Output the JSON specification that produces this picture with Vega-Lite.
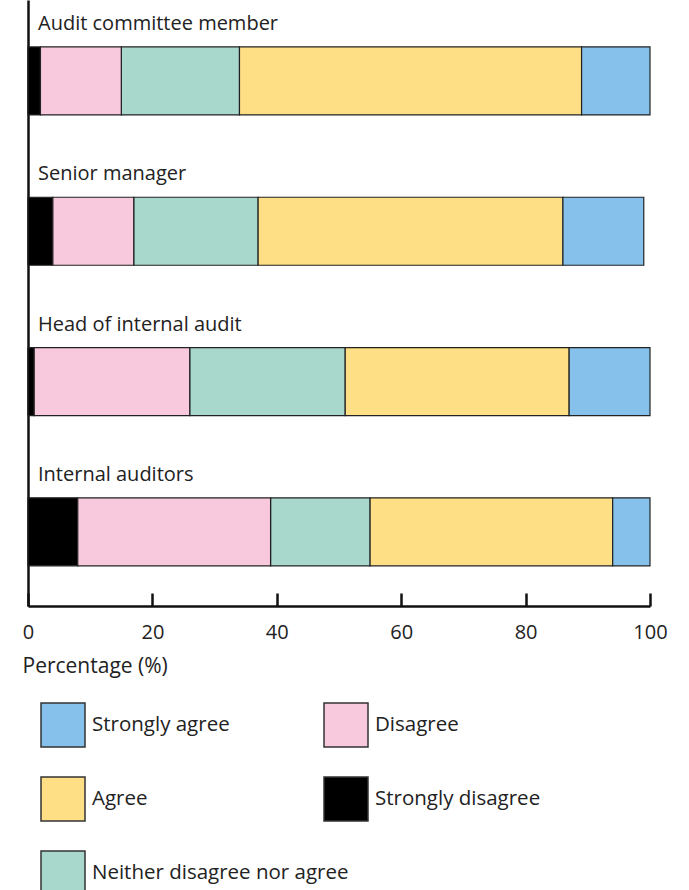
{
  "$schema": "https://vega.github.io/schema/vega-lite/v6.json",
  "width": 622,
  "height": 606,
  "autosize": {"type": "none"},
  "padding": {"left": 28, "top": 0, "right": 39, "bottom": 284},
  "background": "white",
  "config": {
    "font": "Open Sans",
    "view": {"stroke": null},
    "axis": {"grid": false}
  },
  "data": {
    "values": [
      {"role": "Audit committee member", "response": "Strongly disagree", "pct": 2, "order": 1, "group": "B"},
      {"role": "Audit committee member", "response": "Disagree", "pct": 13, "order": 2, "group": "B"},
      {"role": "Audit committee member", "response": "Neither disagree nor agree", "pct": 19, "order": 3, "group": "A"},
      {"role": "Audit committee member", "response": "Agree", "pct": 55, "order": 4, "group": "A"},
      {"role": "Audit committee member", "response": "Strongly agree", "pct": 11, "order": 5, "group": "A"},
      {"role": "Senior manager", "response": "Strongly disagree", "pct": 4, "order": 1, "group": "B"},
      {"role": "Senior manager", "response": "Disagree", "pct": 13, "order": 2, "group": "B"},
      {"role": "Senior manager", "response": "Neither disagree nor agree", "pct": 20, "order": 3, "group": "A"},
      {"role": "Senior manager", "response": "Agree", "pct": 49, "order": 4, "group": "A"},
      {"role": "Senior manager", "response": "Strongly agree", "pct": 13, "order": 5, "group": "A"},
      {"role": "Head of internal audit", "response": "Strongly disagree", "pct": 1, "order": 1, "group": "B"},
      {"role": "Head of internal audit", "response": "Disagree", "pct": 25, "order": 2, "group": "B"},
      {"role": "Head of internal audit", "response": "Neither disagree nor agree", "pct": 25, "order": 3, "group": "A"},
      {"role": "Head of internal audit", "response": "Agree", "pct": 36, "order": 4, "group": "A"},
      {"role": "Head of internal audit", "response": "Strongly agree", "pct": 13, "order": 5, "group": "A"},
      {"role": "Internal auditors", "response": "Strongly disagree", "pct": 8, "order": 1, "group": "B"},
      {"role": "Internal auditors", "response": "Disagree", "pct": 31, "order": 2, "group": "B"},
      {"role": "Internal auditors", "response": "Neither disagree nor agree", "pct": 16, "order": 3, "group": "A"},
      {"role": "Internal auditors", "response": "Agree", "pct": 39, "order": 4, "group": "A"},
      {"role": "Internal auditors", "response": "Strongly agree", "pct": 6, "order": 5, "group": "A"}
    ]
  },
  "transform": [
    {"stack": "pct", "groupby": ["role"], "sort": [{"field": "order", "order": "ascending"}], "as": ["x0", "x1"]}
  ],
  "encoding": {
    "y": {
      "field": "role",
      "type": "nominal",
      "sort": ["Audit committee member", "Senior manager", "Head of internal audit", "Internal auditors"],
      "scale": {"type": "band", "paddingInner": 0, "paddingOuter": 0.016, "align": 1},
      "axis": {"title": null, "labels": false, "ticks": false, "domainColor": "#111", "domainWidth": 2.5}
    }
  },
  "layer": [
    {
      "transform": [{"filter": "datum.group === 'A'"}],
      "mark": {"type": "bar", "height": 68, "stroke": "#222", "strokeWidth": 1.2, "yOffset": 1},
      "encoding": {
        "x": {
          "field": "x0", "type": "quantitative",
          "scale": {"domain": [0, 100], "nice": false},
          "axis": {
            "values": [0, 20, 40, 60, 80, 100],
            "title": "Percentage (%)",
            "titleFontSize": 21, "titleFontWeight": "normal", "titleColor": "#222",
            "titleAnchor": "start", "titleAlign": "left", "titleX": -6, "titleY": 60, "titleBaseline": "middle",
            "labelFontSize": 20, "labelColor": "#222", "labelPadding": 29,
            "domainColor": "#111", "domainWidth": 2.5,
            "tickColor": "#111", "tickWidth": 2.5, "tickSize": -13,
            "labelFlush": false
          }
        },
        "x2": {"field": "x1"},
        "color": {
          "field": "response", "type": "nominal",
          "scale": {"domain": ["Strongly agree", "Agree", "Neither disagree nor agree"], "range": ["#85C1EA", "#FFDF85", "#A8D8CC"]},
          "legend": {
            "orient": "none", "legendX": 12, "legendY": 702, "title": null, "padding": 0,
            "symbolType": "square", "symbolSize": 1936, "symbolStrokeColor": "#333", "symbolStrokeWidth": 1.5,
            "rowPadding": 24, "labelFontSize": 20.5, "labelColor": "#222", "labelOffset": 6, "labelLimit": 400
          }
        }
      }
    },
    {
      "transform": [{"filter": "datum.group === 'B'"}],
      "mark": {"type": "bar", "height": 68, "stroke": "#222", "strokeWidth": 1.2, "yOffset": 1},
      "encoding": {
        "x": {"field": "x0", "type": "quantitative"},
        "x2": {"field": "x1"},
        "color": {
          "field": "response", "type": "nominal",
          "scale": {"domain": ["Disagree", "Strongly disagree"], "range": ["#F8C8DD", "#000000"]},
          "legend": {
            "orient": "none", "legendX": 295, "legendY": 702, "title": null, "padding": 0,
            "symbolType": "square", "symbolSize": 1936, "symbolStrokeColor": "#333", "symbolStrokeWidth": 1.5,
            "rowPadding": 24, "labelFontSize": 20.5, "labelColor": "#222", "labelOffset": 6, "labelLimit": 400
          }
        }
      }
    },
    {
      "transform": [{"filter": "datum.order === 1"}],
      "mark": {"type": "text", "align": "left", "baseline": "alphabetic", "dx": 10, "dy": -50, "fontSize": 20, "color": "#222"},
      "encoding": {
        "x": {"datum": 0, "type": "quantitative"},
        "text": {"field": "role"}
      }
    }
  ],
  "resolve": {"scale": {"color": "independent"}, "legend": {"color": "independent"}}
}
